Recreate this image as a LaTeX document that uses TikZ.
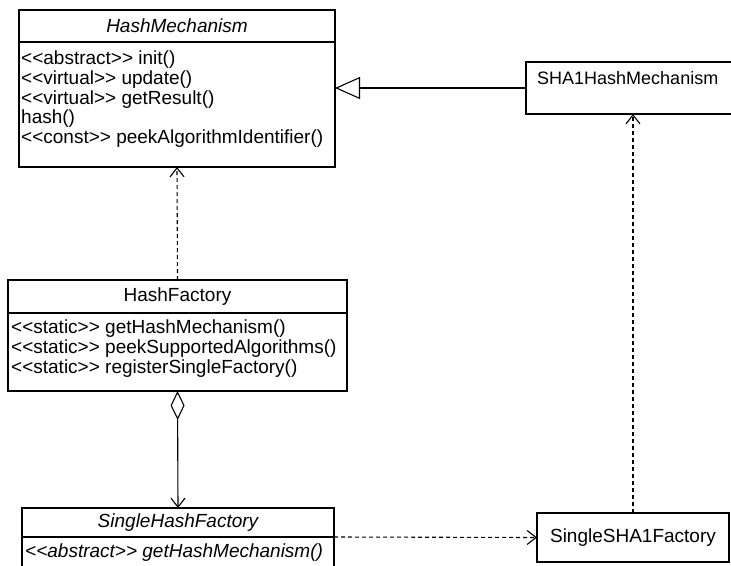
\documentclass[tikz,border=0pt]{standalone}
\usepackage{fontspec}
\setmainfont{Liberation Sans}[Ligatures=TeXOff]
\usetikzlibrary{arrows.meta,positioning}

\begin{document}
\begin{tikzpicture}[x=1pt,y=-1pt,
	font=\fontsize{19}{19.6}\selectfont,
	classbox/.style={shape=rectangle,draw,line width=1.1pt,inner sep=0pt,outer sep=0pt},
	oplist/.style={anchor=north west,align=left,inner sep=0pt},
	realize/.style={line width=1.1pt,-{Triangle[open,length=25pt,width=22pt]}},
	uses/.style={line width=1.1pt,dash pattern=on 4pt off 3pt,-{Straight Barb[length=9pt,width=14pt]}},
	owns/.style={line width=1.1pt,{Diamond[open,length=29pt,width=14pt]}-{Straight Barb[length=9pt,width=14pt]}}]
	\useasboundingbox (0,0) rectangle (731,565);
	\path (177,26) node (hm) [classbox,minimum width=316pt,minimum height=32pt] {\itshape HashMechanism}
		  (177.5,296.5) node (hf) [classbox,minimum width=339pt,minimum height=33pt] {HashFactory}
		  (638,88) node (sha1) [classbox,minimum width=224pt,minimum height=52pt] {}
		  (178,522.5) node (shf) [classbox,minimum width=312pt,minimum height=29pt] {\itshape SingleHashFactory}
		  (633,537.5) node (ss1) [classbox,minimum width=192pt,minimum height=49pt] {SingleSHA1Factory};
	\node (hmops) [classbox,minimum width=316pt,minimum height=125pt,below=0pt of hm] {};
	\node (hfops) [classbox,minimum width=339pt,minimum height=78pt,below=0pt of hf] {};
	\node (shfops) [classbox,minimum width=312pt,minimum height=40pt,below=0pt of shf] {};
	\node (hmtext) [oplist] at ([shift={(2,9)}]hmops.north west)
		{<<abstract>> init()\\<<virtual>> update()\\<<virtual>> getResult()\\hash()\\<<const>> peekAlgorithmIdentifier()};
	\node (hftext) [oplist] at ([shift={(3,7)}]hfops.north west)
		{<<static>> getHashMechanism()\\<<static>> peekSupportedAlgorithms()\\<<static>> registerSingleFactory()};
	\node (shftext) [oplist,font=\fontsize{19}{19.6}\selectfont\itshape] at ([shift={(3,7)}]shfops.north west)
		{<<abstract>> getHashMechanism()};
	\node (sha1name) [oplist,font=\fontsize{18}{19.6}\selectfont] at ([shift={(11,9)}]sha1.north west) {SHA1HashMechanism};
	\draw[realize] (sha1.west) -- (sha1.west -| hmops.east);
	\draw[uses] (hf.north) -- (hmops.south);
	\draw[owns] (hfops.south) -- (shf.north);
	\draw[uses] (shf.south east) -- (ss1.west);
	\draw[uses] (ss1.north) -- (ss1.north |- sha1.south);
\end{tikzpicture}
\end{document}
